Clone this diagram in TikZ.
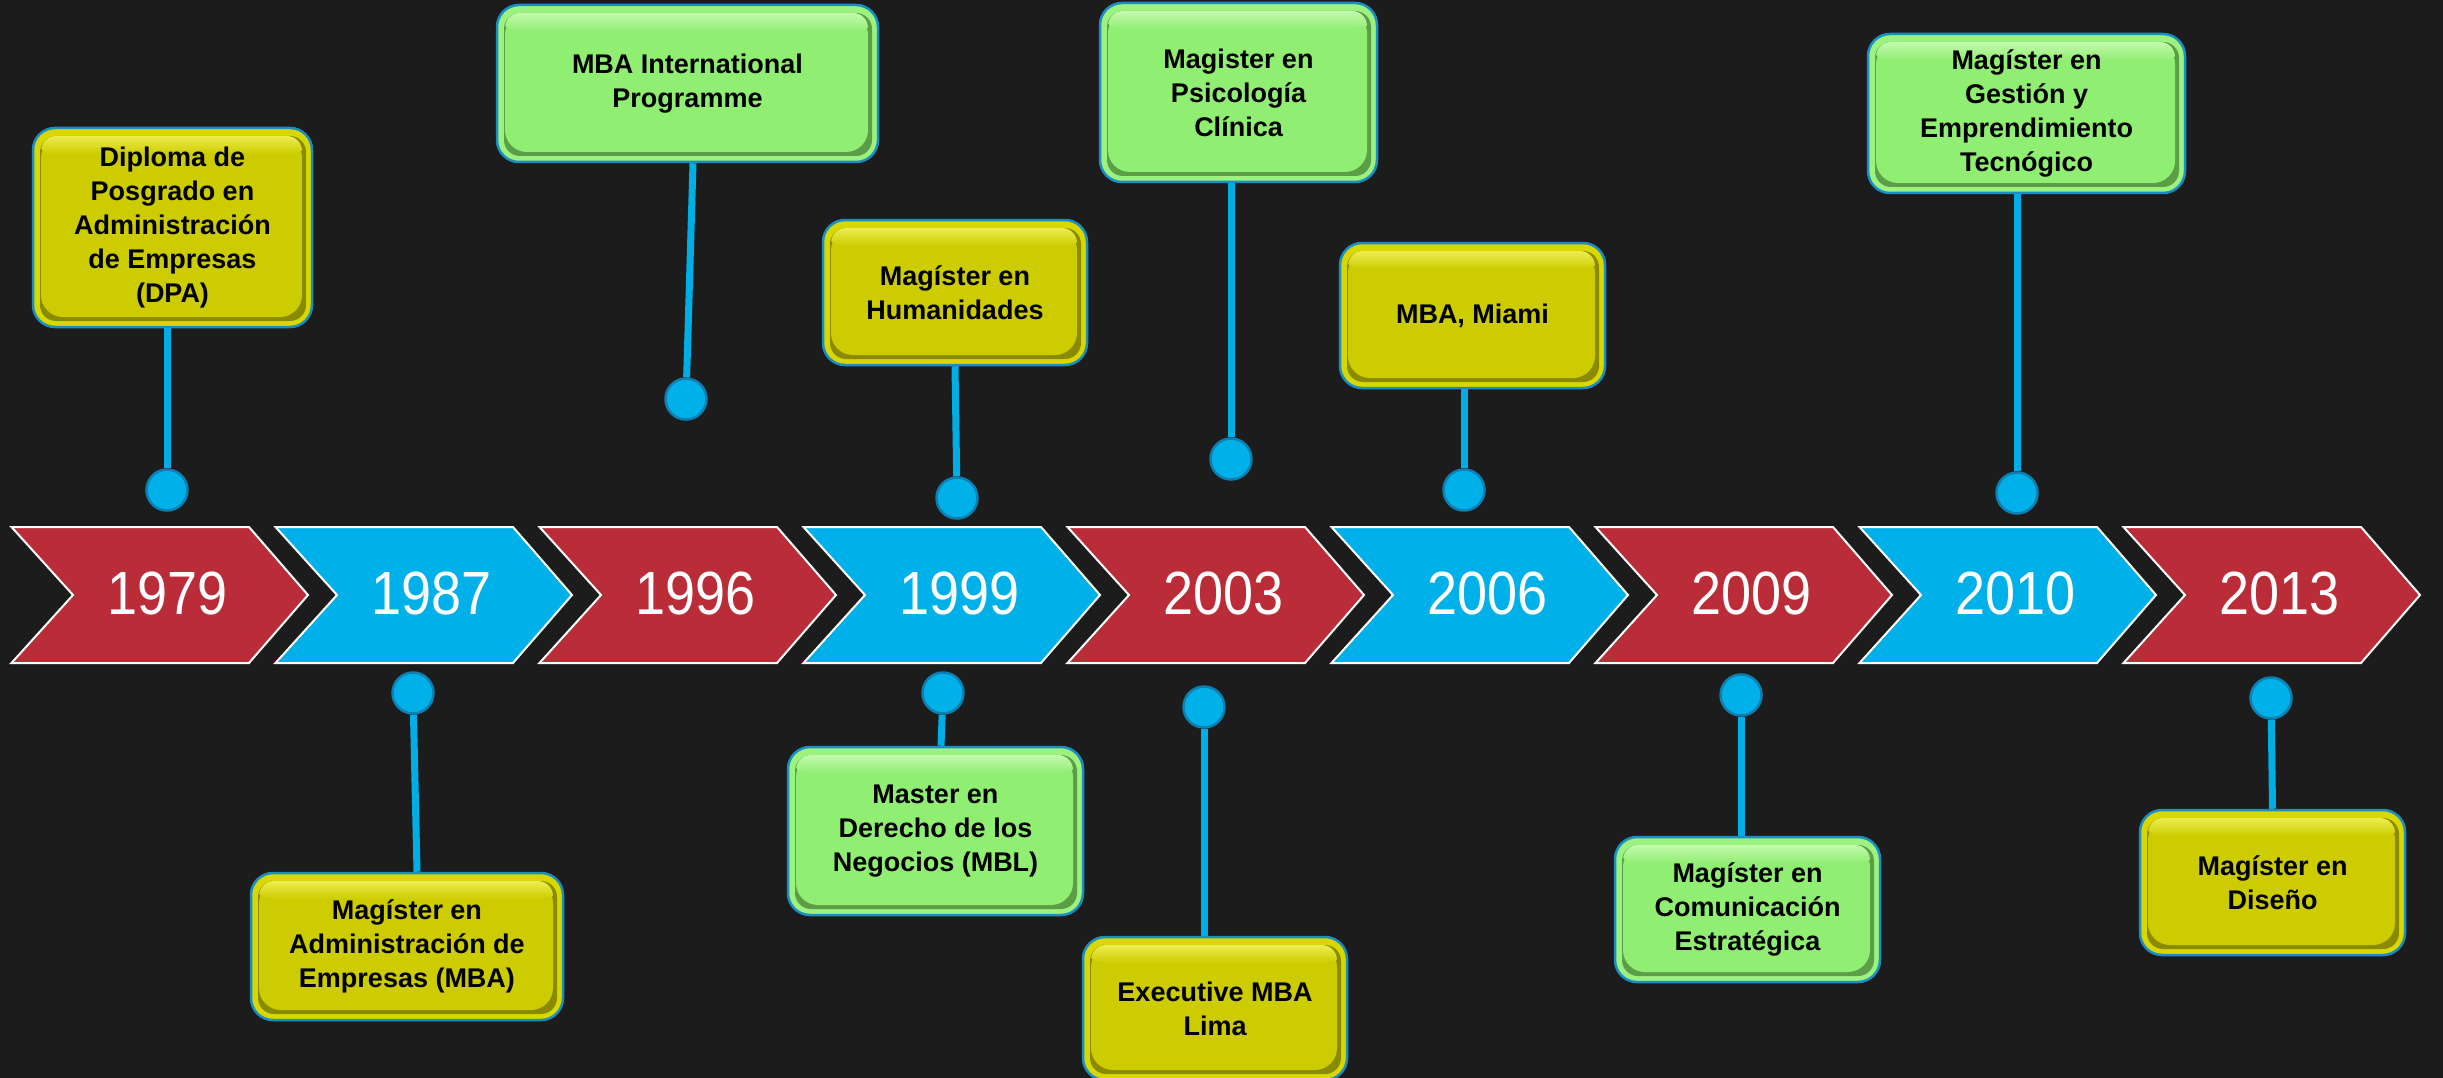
\documentclass[tikz,border=0pt]{standalone}
\usepackage{fontspec}
\setmainfont{Liberation Sans}
\usepackage{graphicx}
\definecolor{bgc}{HTML}{1C1C1C}
\definecolor{chr}{HTML}{BA2C37}
\definecolor{chb}{HTML}{00B0E8}
\definecolor{linec}{HTML}{00AEE6}
\definecolor{dotb}{HTML}{0E7FB0}
\definecolor{bordc}{HTML}{1A8EC2}
\definecolor{yfill}{HTML}{CCCC00}
\definecolor{yrim}{HTML}{D8D800}
\definecolor{ydark}{HTML}{8A8A00}
\definecolor{ylight}{HTML}{EDED50}
\definecolor{gfill}{HTML}{90EE72}
\definecolor{grim}{HTML}{9CF27E}
\definecolor{gdark}{HTML}{5C9E48}
\definecolor{glight}{HTML}{C4FAAE}
\newcommand\boxinner[3]{%
  \coordinate (pp1) at (path picture bounding box.south west);
  \coordinate (pp2) at (path picture bounding box.north east);
  \coordinate (pp3) at (pp1 |- pp2);
  \fill[#2, rounded corners=16pt] ([shift={(7pt,6pt)}]pp1) rectangle ([shift={(-6pt,-8pt)}]pp2);
  \begin{scope}
    \clip[rounded corners=15pt] ([shift={(8pt,10pt)}]pp1) rectangle ([shift={(-10pt,-8pt)}]pp2);
    \fill[#1] ([shift={(8pt,10pt)}]pp1) rectangle ([shift={(-10pt,-8pt)}]pp2);
    \shade[top color=#3, bottom color=#1] ([shift={(0pt,-8pt)}]pp2) rectangle ([shift={(0pt,-26pt)}]pp3);
  \end{scope}
}
\tikzset{
  tbox/.style={rounded corners=22pt, draw=bordc, line width=2.5pt, inner sep=0pt, align=center,
    font=\fontsize{27}{34}\selectfont\bfseries, text=black},
  ybox/.style={tbox, fill=yrim, path picture={\boxinner{yfill}{ydark}{ylight}}},
  gbox/.style={tbox, fill=grim, path picture={\boxinner{gfill}{gdark}{glight}}},
  chev/.style={draw=white, line width=2pt, line join=miter},
  yearst/.style={text=white, font=\fontsize{54}{60}\selectfont, inner sep=0pt},
  dotst/.style={circle, minimum size=41pt, inner sep=0pt, fill=chb, draw=dotb, line width=2.5pt},
  connst/.style={draw=linec, line width=7pt}
}
\begin{document}
\begin{tikzpicture}[x=1pt,y=-1pt]
\fill[bgc] (0,0) rectangle (2443,1078);
\useasboundingbox (0,0) rectangle (2443,1078);
% chevrons
\foreach \i/\yr/\col in {0/1979/chr,1/1987/chb,2/1996/chr,3/1999/chb,4/2003/chr,5/2006/chb,6/2009/chr,7/2010/chb,8/2013/chr}{
  \pgfmathsetmacro\xo{11.5+264*\i}
  \draw[chev, fill=\col] (\xo,527) -- ++(237.5,0) -- ++(59,68) -- ++(-59,68) -- ++(-237.5,0) -- ++(61.5,-68) -- cycle;
  \node[yearst] (y\yr) at (\xo+156,593) {\scalebox{1}[1.13]{\yr}};
}
% boxes top
\node[ybox, minimum width=279pt, minimum height=199pt] (b1) at (172.5,227.5) {Diploma de\\Posgrado en\\Administración\\de Empresas\\(DPA)};
\node[gbox, minimum width=381pt, minimum height=157pt] (b2) at (687.5,83.5) {MBA International\\Programme};
\node[ybox, minimum width=264pt, minimum height=145pt] (b3) at (955,292.5) {Magíster en\\Humanidades};
\node[gbox, minimum width=277pt, minimum height=179pt] (b4) at (1238.5,92.5) {Magister en\\Psicología\\Clínica};
\node[ybox, minimum width=265pt, minimum height=145pt] (b5) at (1472.5,315.5) {MBA, Miami};
\node[gbox, minimum width=317pt, minimum height=159pt] (b6) at (2026.5,113.5) {Magíster en\\Gestión y\\Emprendimiento\\Tecnógico};
% boxes bottom
\node[ybox, minimum width=312pt, minimum height=147pt] (b7) at (407,946.5) {Magíster en\\Administración de\\Empresas (MBA)};
\node[gbox, minimum width=295pt, minimum height=168pt] (b8) at (935.5,831) {Master en\\Derecho de los\\Negocios (MBL)};
\node[ybox, minimum width=264pt, minimum height=143pt] (b9) at (1215,1008.5) {Executive MBA\\Lima};
\node[gbox, minimum width=265pt, minimum height=145pt] (b10) at (1747.5,909.5) {Magíster en\\Comunicación\\Estratégica};
\node[ybox, minimum width=265pt, minimum height=145pt] (b11) at (2272.5,882.5) {Magíster en\\Diseño};
% dots
\node[dotst] (d1) at (167,490) {};
\node[dotst] (d2) at (686,399) {};
\node[dotst] (d3) at (957,498) {};
\node[dotst] (d4) at (1231,459) {};
\node[dotst] (d5) at (1464,490) {};
\node[dotst] (d6) at (2017,493) {};
\node[dotst] (d7) at (413,693) {};
\node[dotst] (d8) at (943,693) {};
\node[dotst] (d9) at (1204,707) {};
\node[dotst] (d10) at (1741,695) {};
\node[dotst] (d11) at (2271,698) {};
% connectors
\draw[connst] (d1) -- (d1 |- b1.south);
\draw[connst] (d2) -- ([xshift=5.5pt]b2.south);
\draw[connst] (d3) -- (b3.south);
\draw[connst] (d4) -- (d4 |- b4.south);
\draw[connst] (d5) -- (d5 |- b5.south);
\draw[connst] (d6) -- (d6 |- b6.south);
\draw[connst] (d7) -- ([xshift=10pt]b7.north);
\draw[connst] (d8) -- ([xshift=5.5pt]b8.north);
\draw[connst] (d9) -- (d9 |- b9.north);
\draw[connst] (d10) -- (d10 |- b10.north);
\draw[connst] (d11) -- (b11.north);
\end{tikzpicture}
\end{document}
